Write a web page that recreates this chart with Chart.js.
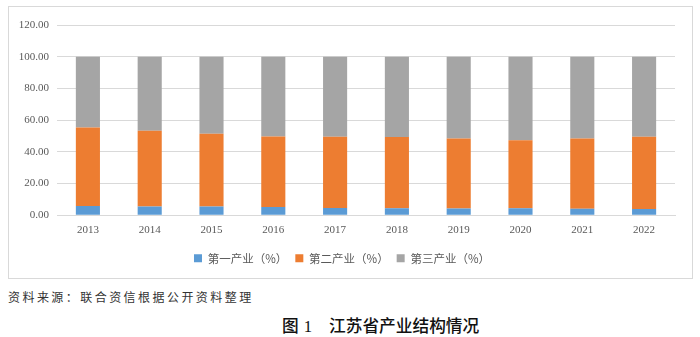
<!DOCTYPE html>
<html lang="zh">
<head>
    <meta charset="UTF-8">
    <title>江苏省产业结构情况</title>
    <script src="https://cdn.jsdelivr.net/npm/chart.js"></script>
    <style>
        body { margin: 0; background: #fff; width: 700px; height: 337px; position: relative; overflow: hidden; }
        #box { position: absolute; left: 8px; top: 6px; width: 685px; height: 273px; border: 1.5px solid #d9d9d9; box-sizing: border-box; }
        #source { position: absolute; left: 8px; top: 288px; font-family: "Noto Sans CJK SC", sans-serif; font-size: 12px; letter-spacing: 2.45px; color: #333; }
        #title { position: absolute; left: 282px; top: 313px; font-family: "Noto Sans CJK SC", sans-serif; font-size: 16.7px; font-weight: 500; color: #111; white-space: pre; }
        #title .num { font-family: "Liberation Serif", serif; font-weight: normal; margin-left: 5px; margin-right: 17px; }
    </style>
</head>
<body>
    <div id="box"><canvas id="chart"></canvas></div>
    <div id="source">资料来源：联合资信根据公开资料整理</div>
    <div id="title">图<span class="num">1</span>江苏省产业结构情况</div>
    <script>
        const years = ['2013', '2014', '2015', '2016', '2017', '2018', '2019', '2020', '2021', '2022'];
        const primary = [5.8, 5.5, 5.5, 5.3, 4.6, 4.5, 4.3, 4.4, 4.1, 4.0];
        const secondary = [49.5, 47.8, 45.9, 44.4, 45.0, 44.8, 44.2, 42.9, 44.4, 45.5];
        const tertiary = [44.7, 46.7, 48.6, 50.3, 50.4, 50.7, 51.5, 52.7, 51.5, 50.5];
        const seriesNames = ['第一产业（%）', '第二产业（%）', '第三产业（%）'];

        const tickFont = { family: '"Liberation Serif", serif', size: 11 };

        new Chart(document.getElementById('chart'), {
            type: 'bar',
            data: {
                labels: years,
                datasets: [
                    { label: seriesNames[0], data: primary, backgroundColor: '#5b9bd5' },
                    { label: seriesNames[1], data: secondary, backgroundColor: '#ed7d31' },
                    { label: seriesNames[2], data: tertiary, backgroundColor: '#a5a5a5' }
                ]
            },
            options: {
                responsive: true,
                maintainAspectRatio: false,
                animation: false,
                layout: { padding: { left: 0, right: 17, top: 18, bottom: 4 } },
                datasets: { bar: { categoryPercentage: 1, barPercentage: 0.39 } },
                plugins: {
                    tooltip: { enabled: false },
                    legend: {
                        position: 'bottom',
                        labels: {
                            boxWidth: 8, boxHeight: 8, padding: 8,
                            color: '#595959',
                            font: { family: '"Noto Sans CJK SC", sans-serif', size: 11.5 }
                        }
                    }
                },
                scales: {
                    x: {
                        stacked: true,
                        grid: { display: false, drawTicks: false },
                        border: { color: '#d9d9d9' },
                        ticks: { color: '#595959', font: tickFont, padding: 8 }
                    },
                    y: {
                        stacked: true,
                        min: 0, max: 120,
                        afterFit: s => { s.width = 48; },
                        border: { display: false },
                        grid: { color: '#d9d9d9', drawTicks: false },
                        ticks: {
                            stepSize: 20, padding: 8,
                            color: '#595959', font: tickFont,
                            callback: v => v.toFixed(2)
                        }
                    }
                }
            }
        });
    </script>
</body>
</html>
